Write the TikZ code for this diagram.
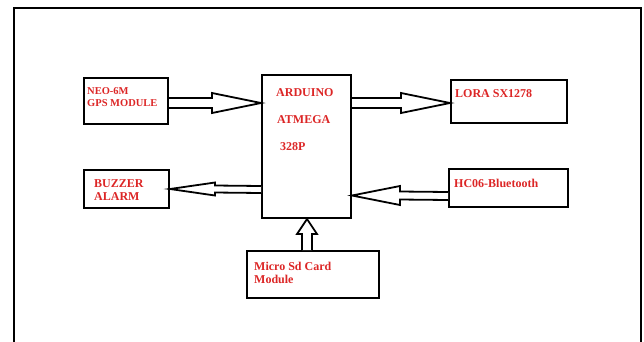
\documentclass[tikz,border=0pt]{standalone}
\usepackage{fontspec}
\setmainfont{Liberation Serif}
\usetikzlibrary{calc}
\definecolor{lbl}{RGB}{220,38,38}
\tikzset{
  box/.style={draw=black,line width=2pt,inner sep=0pt,minimum width=#1},
  lab/.style={anchor=base west,inner sep=0pt,text=lbl,font=\bfseries\fontsize{12}{12}\selectfont},
  smalllab/.style={anchor=base west,inner sep=0pt,text=lbl,font=\bfseries\fontsize{10.5}{12}\selectfont,align=left},
  arr/.style={draw=black,line width=1.8pt,fill=white,line join=miter},
}
\begin{document}
\begin{tikzpicture}[x=1pt,y=-1pt]
\useasboundingbox (0,0) rectangle (644,341);
\draw[line width=2pt] (14,360) -- (14,7.5) -- (641.3,7.5) -- (641.3,360);
% boxes
\node[draw,line width=2pt,minimum width=84pt,minimum height=46pt,inner sep=0pt] (neo) at (126,101) {};
\node[draw,line width=2pt,minimum width=89pt,minimum height=143pt,inner sep=0pt] (ard) at (306.5,146.5) {};
\node[draw,line width=2pt,minimum width=116pt,minimum height=43pt,inner sep=0pt] (lora) at (509,101.5) {};
\node[draw,line width=2pt,minimum width=85pt,minimum height=38pt,inner sep=0pt] (buz) at (126.5,189) {};
\node[draw,line width=2pt,minimum width=119pt,minimum height=38pt,inner sep=0pt] (hc) at (508.5,188) {};
\node[draw,line width=2pt,minimum width=132pt,minimum height=47pt,inner sep=0pt] (sd) at (313,274.5) {};
% labels
\node[smalllab] (neot1) at (87,94) {NEO-6M};
\node[smalllab] (neot2) at (87,106.5) {GPS MODULE};
\node[lab] (ardt1) at (276,96.5) {ARDUINO};
\node[lab] (ardt2) at (277,123) {ATMEGA};
\node[lab] (ardt3) at (280,150) {328P};
\node[lab] (lorat) at (455,97) {LORA SX1278};
\node[lab] (buzt1) at (94,187) {BUZZER};
\node[lab] (buzt2) at (94,200) {ALARM};
\node[lab] (hct) at (454,187.5) {HC06-Bluetooth};
\node[lab] (sdt1) at (254,270) {Micro Sd Card};
\node[lab] (sdt2) at (254,283) {Module};
% arrow end points
\coordinate (a1s) at (neo.east |- 0,103);
\coordinate (a1t) at (ard.west |- 0,103);
\coordinate (a2s) at (ard.east |- 0,103);
\coordinate (a2t) at (lora.west |- 0,103);
\coordinate (a3s) at (ard.west |- 0,189.5);
\coordinate (a3t) at (buz.east |- 0,189);
\coordinate (a4s) at (hc.west |- 0,196);
\coordinate (a4t) at (ard.east |- 0,195.5);
\coordinate (a5s) at (sd.north -| 307,0);
\coordinate (a5t) at (ard.south -| 307,0);
% arrows
\draw[arr] ($(a1s)+(0,-5)$) -- ($(a1t)+(-49,-5)$) -- ($(a1t)+(-49,-10)$) -- (a1t)
  -- ($(a1t)+(-49,10)$) -- ($(a1t)+(-49,5)$) -- ($(a1s)+(0,5)$);
\draw[arr] ($(a2s)+(0,-5)$) -- ($(a2t)+(-49,-5)$) -- ($(a2t)+(-49,-10)$) -- (a2t)
  -- ($(a2t)+(-49,10)$) -- ($(a2t)+(-49,5)$) -- ($(a2s)+(0,5)$);
\draw[arr] ($(a3s)+(0,-3.5)$) -- ($(a3t)+(45,-3.5)$) -- ($(a3t)+(45,-6.5)$) -- (a3t)
  -- ($(a3t)+(45,6.5)$) -- ($(a3t)+(45,3.5)$) -- ($(a3s)+(0,3.5)$);
\draw[arr] ($(a4s)+(0,-4)$) -- ($(a4t)+(48,-4)$) -- ($(a4t)+(48,-9.5)$) -- (a4t)
  -- ($(a4t)+(48,9.5)$) -- ($(a4t)+(48,4)$) -- ($(a4s)+(0,4)$);
\draw[arr] ($(a5s)+(-5,0)$) -- ($(a5t)+(-5,15)$) -- ($(a5t)+(-10,15)$) -- (a5t)
  -- ($(a5t)+(10,15)$) -- ($(a5t)+(5,15)$) -- ($(a5s)+(5,0)$);
\end{tikzpicture}
\end{document}
